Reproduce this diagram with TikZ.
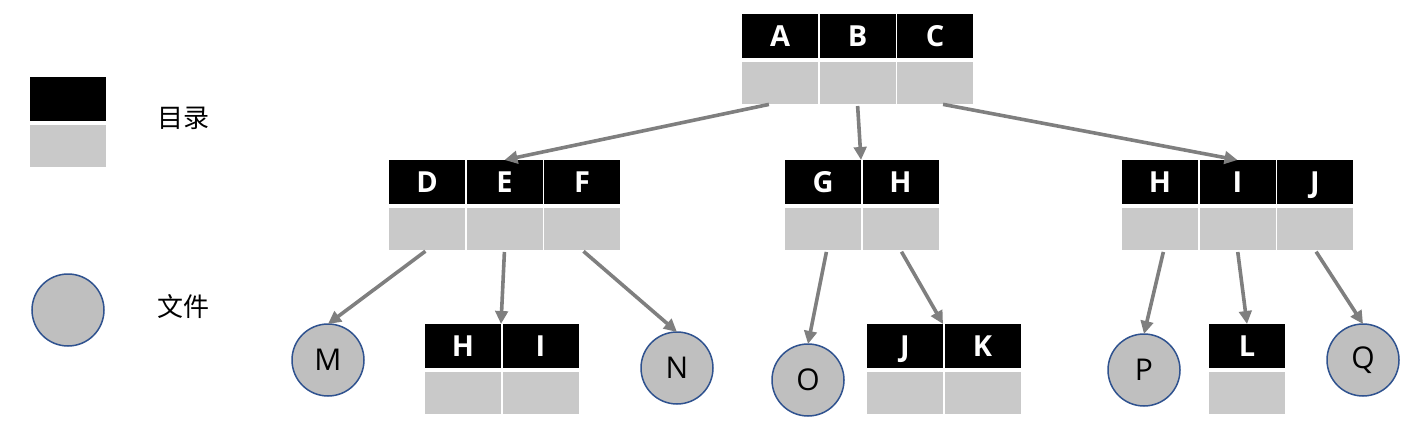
\documentclass[tikz,border=0pt]{standalone}
\usepackage{fontspec}
\setmainfont{Open Sans}
\newfontfamily\cjk{Noto Sans CJK SC}
\usetikzlibrary{arrows.meta,calc}
\definecolor{cellgray}{RGB}{201,201,201}
\definecolor{circgray}{RGB}{191,191,191}
\definecolor{circblue}{RGB}{47,82,143}
\definecolor{arrowgray}{RGB}{127,127,127}
\newcommand\dirbox[4]{%
  \foreach \l [count=\i] in {#4} {
    \node[blk] (#1-\i) at ({#2+38+(\i-1)*77.5},{#3+22}) {\l};
    \node[gry] (#1-\i g) at ({#2+38+(\i-1)*77.5},{#3+69}) {};
  }%
}
\begin{document}
\begin{tikzpicture}[x=1pt,y=-1pt,
  blk/.style={fill=black,text=white,font=\bfseries\fontsize{29}{29}\selectfont,
    minimum width=76pt,minimum height=44pt,inner sep=0pt,outer sep=0pt,
    text height=20.5pt,text depth=0pt},
  gry/.style={fill=cellgray,minimum width=76pt,minimum height=42pt,inner sep=0pt,outer sep=0pt},
  file/.style={circle,fill=circgray,draw=circblue,line width=1.5pt,minimum size=72pt,
    inner sep=0pt,outer sep=0pt,font=\fontsize{30}{30}\selectfont},
  legtext/.style={font=\cjk\fontsize{26}{26}\selectfont,inner sep=0pt},
  conn/.style={draw=arrowgray,line width=3.6pt,-{Triangle[length=13pt,width=12.5pt]},shorten <=2pt}
]
\useasboundingbox (0,0) rectangle (1415,444);

% legend
\node[fill=black,minimum width=76pt,minimum height=44pt,inner sep=0pt] (legdir) at (68,99) {};
\node[gry] (legdirg) at (68,146) {};
\node[legtext] (legdirt) at (183,118) {目录};
\node[file] (legfile) at (68,310) {};
\node[legtext] (legfilet) at (183,307) {文件};

% directories
\dirbox{d1}{742}{14}{A,B,C}
\dirbox{d2}{389}{160}{D,E,F}
\dirbox{d3}{785}{160}{G,H}
\dirbox{d4}{1122}{160}{H,I,J}
\dirbox{d5}{425}{324}{H,I}
\dirbox{d6}{867}{324}{J,K}
\dirbox{d7}{1209}{324}{L}

% files
\node[file] (M) at (328,360) {M};
\node[file] (N) at (677,368) {N};
\node[file] (O) at (808,380) {O};
\node[file] (P) at (1144,370) {P};
\node[file] (Q) at (1363,360) {Q};

% connectors
\draw[conn] ($(d1-1g.south west)!0.38!(d1-1g.south east)$) -- (d2-2.north);
\draw[conn] (d1-2g.south) -- (d3-1.north east);
\draw[conn] ($(d1-3g.south west)!0.58!(d1-3g.south east)$) -- (d4-2.north);
\draw[conn] (d2-1g.south) -- (M.north);
\draw[conn] (d2-2g.south) -- (d5-1.north east);
\draw[conn] (d2-3g.south) -- (N.north);
\draw[conn] ($(d3-1g.south west)!0.55!(d3-1g.south east)$) -- (O.north);
\draw[conn] (d3-2g.south) -- (d6-1.north east);
\draw[conn] ($(d4-1g.south west)!0.55!(d4-1g.south east)$) -- (P.north);
\draw[conn] (d4-2g.south) -- (d7-1.north);
\draw[conn] (d4-3g.south) -- (Q.north);
\end{tikzpicture}
\end{document}
